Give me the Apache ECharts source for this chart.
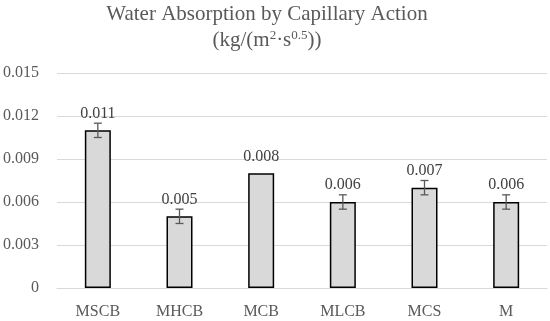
<!DOCTYPE html>
<html><head><meta charset="utf-8">
<script src="https://cdn.jsdelivr.net/npm/echarts@6/dist/echarts.min.js"></script>
<style>html,body{margin:0;padding:0;background:#fff}#c{width:550px;height:321px}</style>
</head><body><div id="c"></div>
<script>
var categories = ['MSCB', 'MHCB', 'MCB', 'MLCB', 'MCS', 'M'];
var values = [0.011, 0.005, 0.008, 0.006, 0.007, 0.006];
var errors = [0.0005, 0.0005, 0, 0.0005, 0.0005, 0.0005];
var yTicks = { min: 0, max: 0.015, interval: 0.003 };

var FONT = '"Liberation Serif", "DejaVu Serif", serif';
var chart = echarts.init(document.getElementById('c'));
var errData = categories.map(function (c, i) { return [i, values[i] - errors[i], values[i] + errors[i]]; });

chart.setOption({
  animation: false,
  title: {
    text: 'Water Absorption by Capillary Action\n{t|(kg/(m}{s|2}{t|·s}{s|0.5}{t|))}',
    left: 262, top: -4, textAlign: 'center',
    textStyle: {
      fontFamily: FONT, fontSize: 21, fontWeight: 'normal', color: '#595959', lineHeight: 26,
      rich: {
        t: { fontFamily: FONT, fontSize: 21, color: '#595959', lineHeight: 26 },
        s: { fontFamily: FONT, fontSize: 13, color: '#595959', padding: [0, 0, 9, 0] }
      }
    }
  },
  grid: { left: 57, right: 3, top: 73, bottom: 33, containLabel: false },
  xAxis: {
    type: 'category', data: categories,
    axisLine: { lineStyle: { color: '#d9d9d9', width: 1 } },
    axisTick: { show: false },
    axisLabel: { fontFamily: FONT, fontSize: 16, color: '#595959', margin: 16 }
  },
  yAxis: {
    type: 'value', min: yTicks.min, max: yTicks.max, interval: yTicks.interval,
    axisLine: { show: false }, axisTick: { show: false },
    splitLine: { lineStyle: { color: '#d9d9d9', width: 1 } },
    axisLabel: {
      fontFamily: FONT, fontSize: 16, color: '#595959', margin: 18,
      formatter: function (v) { return v === 0 ? '0' : v.toFixed(3); }
    }
  },
  series: [
    {
      type: 'bar', data: values, barWidth: 26,
      itemStyle: { color: '#d9d9d9', borderColor: '#000', borderWidth: 1.5 },
      label: {
        show: true, position: 'top', distance: 9,
        fontFamily: FONT, fontSize: 16, color: '#404040',
        formatter: function (p) { return p.value.toFixed(3); }
      }
    },
    {
      type: 'custom', data: errData, z: 10,
      renderItem: function (params, api) {
        var x = api.value(0);
        var lo = api.coord([x, api.value(1)]);
        var hi = api.coord([x, api.value(2)]);
        if (Math.abs(lo[1] - hi[1]) < 0.5) return null;
        var w = 4;
        var st = { stroke: '#595959', lineWidth: 1.3 };
        return {
          type: 'group', children: [
            { type: 'line', shape: { x1: lo[0], y1: lo[1], x2: hi[0], y2: hi[1] }, style: st },
            { type: 'line', shape: { x1: lo[0] - w, y1: lo[1], x2: lo[0] + w, y2: lo[1] }, style: st },
            { type: 'line', shape: { x1: hi[0] - w, y1: hi[1], x2: hi[0] + w, y2: hi[1] }, style: st }
          ]
        };
      }
    }
  ]
});
</script></body></html>
